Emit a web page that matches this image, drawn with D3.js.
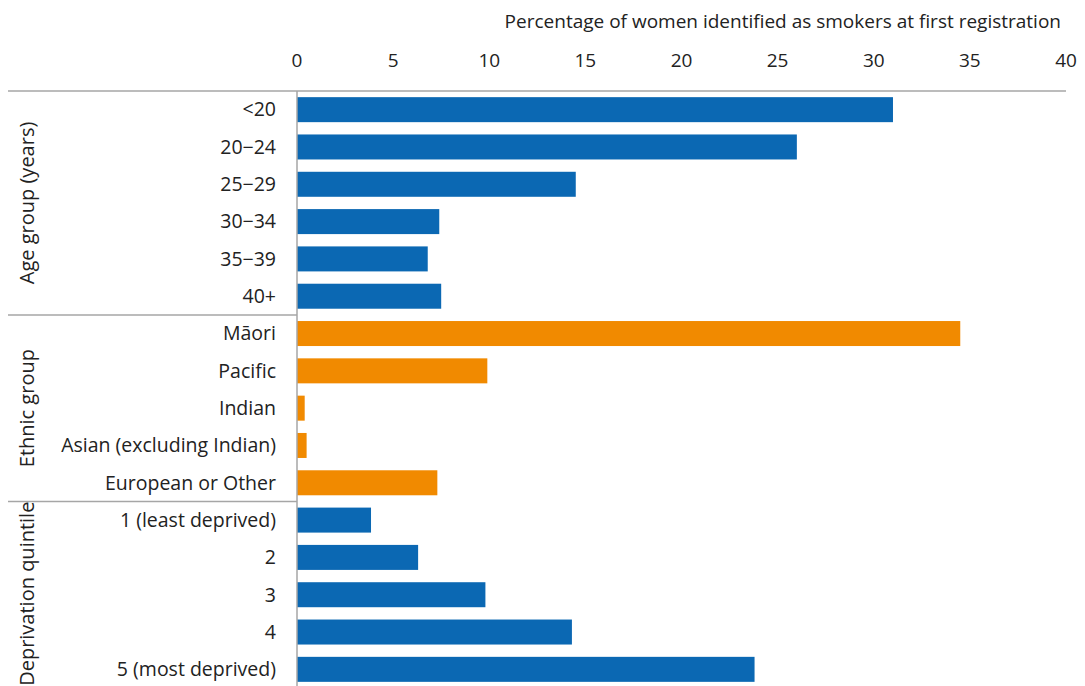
<!DOCTYPE html>
<html>
<head>
<meta charset="utf-8">
<script src="https://cdn.jsdelivr.net/npm/d3@7"></script>
<style>
  body { margin: 0; background: #fff; }
  text { font-family: "Open Sans", "Noto Sans", sans-serif; fill: #222; }
</style>
</head>
<body>
<script>
var ageLabels = ['<20', '20\u221224', '25\u221229', '30\u221234', '35\u221239', '40+'];
var ageValues = [31.0, 26.0, 14.5, 7.4, 6.8, 7.5];

var ethnicLabels = ['M\u0101ori', 'Pacific', 'Indian', 'Asian (excluding Indian)', 'European or Other'];
var ethnicValues = [34.5, 9.9, 0.4, 0.5, 7.3];

var depLabels = ['1 (least deprived)', '2', '3', '4', '5 (most deprived)'];
var depValues = [3.85, 6.3, 9.8, 14.3, 23.8];

var groupNames = ['Age group (years)', 'Ethnic group', 'Deprivation quintile'];
var xTicks = [0, 5, 10, 15, 20, 25, 30, 35, 40];
var axisTitle = 'Percentage of women identified as smokers at first registration';

var blue = '#0b68b3', orange = '#f18a00', grey = '#a6a6a6';

// build rows
var rows = [];
ageLabels.forEach(function(l, i) { rows.push({label: l, value: ageValues[i], group: 0, key: 'a' + i}); });
ethnicLabels.forEach(function(l, i) { rows.push({label: l, value: ethnicValues[i], group: 1, key: 'e' + i}); });
depLabels.forEach(function(l, i) { rows.push({label: l, value: depValues[i], group: 2, key: 'd' + i}); });

var svgWidth = 1085, svgHeight = 686;

var svg = d3.select('body').append('svg')
  .attr('width', svgWidth)
  .attr('height', svgHeight);

var x = d3.scaleLinear().domain([0, 40]).range([297, 1066]);
var y = d3.scaleBand()
  .domain(rows.map(function(d) { return d.key; }))
  .range([91, 688])
  .paddingInner(0.33)
  .paddingOuter(0.165);

// axis title
svg.append('text')
  .attr('x', 1061)
  .attr('y', 28)
  .attr('text-anchor', 'end')
  .style('font-size', '19px')
  .text(axisTitle);

// tick labels
svg.selectAll('.tick-label')
  .data(xTicks)
  .enter().append('text')
  .attr('class', 'tick-label')
  .attr('x', function(d) { return x(d); })
  .attr('y', 67)
  .attr('text-anchor', 'middle')
  .style('font-size', '19px')
  .text(function(d) { return d; });

// bars
svg.selectAll('.bar')
  .data(rows)
  .enter().append('rect')
  .attr('class', 'bar')
  .attr('x', x(0))
  .attr('y', function(d) { return y(d.key); })
  .attr('width', function(d) { return x(d.value) - x(0); })
  .attr('height', y.bandwidth())
  .attr('fill', function(d) { return d.group == 1 ? orange : blue; });

// category labels
svg.selectAll('.cat-label')
  .data(rows)
  .enter().append('text')
  .attr('class', 'cat-label')
  .attr('x', 276)
  .attr('y', function(d) { return y(d.key) + y.bandwidth() / 2; })
  .attr('dy', '0.35em')
  .attr('text-anchor', 'end')
  .style('font-size', '19.5px')
  .text(function(d) { return d.label; });

// group boundaries
var step = y.step();
var groupBounds = groupNames.map(function(name, g) {
  var gr = rows.filter(function(d) { return d.group == g; });
  var y0 = y(gr[0].key) - (step - y.bandwidth()) / 2;
  var y1 = y(gr[gr.length - 1].key) + y.bandwidth() + (step - y.bandwidth()) / 2;
  return {name: name, y0: y0, y1: Math.min(y1, svgHeight)};
});

// top line
svg.append('line')
  .attr('x1', 8).attr('x2', x(40))
  .attr('y1', groupBounds[0].y0).attr('y2', groupBounds[0].y0)
  .attr('stroke', grey).attr('stroke-width', 1.5);

// separators between groups
svg.selectAll('.sep')
  .data(groupBounds.slice(1))
  .enter().append('line')
  .attr('class', 'sep')
  .attr('x1', 8).attr('x2', x(0))
  .attr('y1', function(d) { return d.y0; })
  .attr('y2', function(d) { return d.y0; })
  .attr('stroke', grey).attr('stroke-width', 1.5);

// vertical axis line
svg.append('line')
  .attr('x1', x(0)).attr('x2', x(0))
  .attr('y1', groupBounds[0].y0).attr('y2', svgHeight)
  .attr('stroke', grey).attr('stroke-width', 1.5);

// group labels
svg.selectAll('.group-label')
  .data(groupBounds)
  .enter().append('text')
  .attr('class', 'group-label')
  .attr('transform', function(d) { return 'translate(27,' + ((d.y0 + d.y1) / 2) + ') rotate(-90)'; })
  .attr('text-anchor', 'middle')
  .attr('dy', '0.35em')
  .style('font-size', '20px')
  .text(function(d) { return d.name; });
</script>
</body>
</html>
